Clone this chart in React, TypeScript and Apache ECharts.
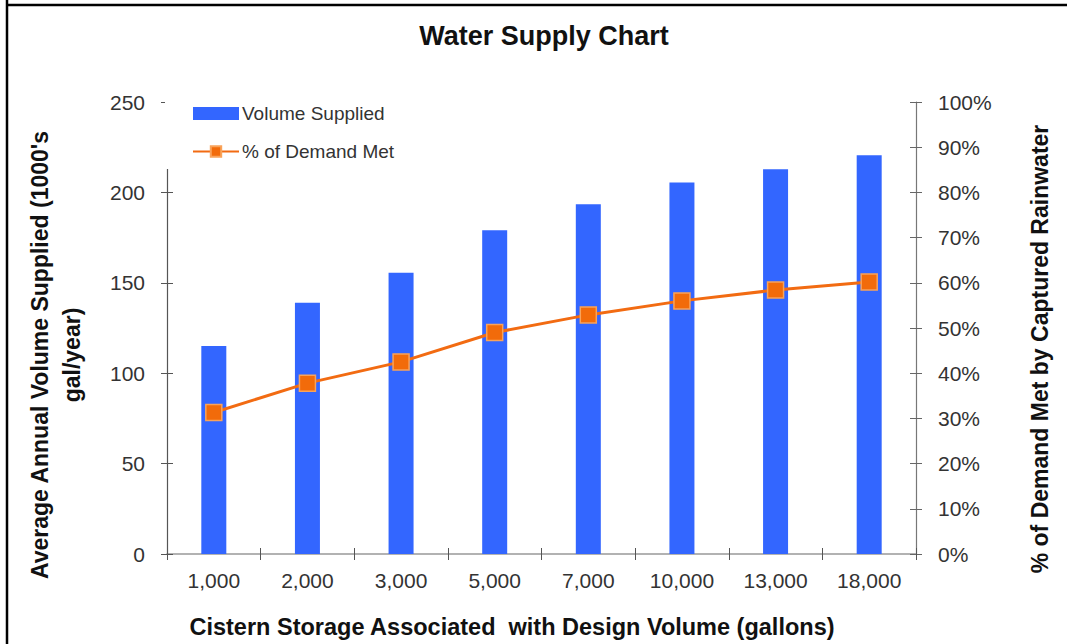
import React, { useEffect, useRef } from "react";
import * as echarts from "echarts";

const categories = ["1,000", "2,000", "3,000", "5,000", "7,000", "10,000", "13,000", "18,000"];
const volumeSupplied = [115, 139, 155.5, 179, 193.5, 205.5, 212.8, 220.5];
const demandMetPct = [31.3, 37.8, 42.5, 49.0, 52.9, 56.0, 58.4, 60.2];
const leftTicks = { min: 0, max: 250, interval: 50 };
const rightTicks = { min: 0, max: 100, interval: 10 };

const FONT = "'Liberation Sans', Arial, sans-serif";

export default function App() {
  const ref = useRef<HTMLDivElement>(null);
  useEffect(() => {
    if (!ref.current) return;
    const chart = echarts.init(ref.current, undefined, { renderer: "svg" });
    const axisLabel = { fontFamily: FONT, fontSize: 21, color: "#333" };
    const hiddenY = (pos: string, t: any, color: string) => ({
      type: "value",
      position: pos,
      min: t.min,
      max: t.max,
      interval: t.interval,
      splitLine: { show: false },
      axisLine: { show: false },
      axisLabel: { show: false },
      axisTick: { show: true, inside: true, length: 6, lineStyle: { color } },
    });
    chart.setOption({
      animation: false,
      backgroundColor: "#fff",
      textStyle: { fontFamily: FONT },
      title: {
        text: "Water Supply Chart",
        left: 539,
        textAlign: "center",
        top: 17,
        textStyle: { fontFamily: FONT, fontSize: 27, fontWeight: "bold", color: "#111" },
      },
      legend: {
        orient: "vertical",
        left: 165,
        top: 96,
        padding: [8, 16, 8, 27],
        backgroundColor: "#fff",
        itemWidth: 46,
        itemHeight: 13,
        itemGap: 19,
        textStyle: { fontFamily: FONT, fontSize: 19, color: "#333", padding: [0, 0, 0, -2] },
        data: [
          { name: "Volume Supplied", icon: "rect" },
          { name: "% of Demand Met" },
        ],
      },
      grid: { left: 167, right: 151, top: 102, bottom: 90, containLabel: false },
      xAxis: [
        {
          type: "category",
          data: categories,
          axisLine: { lineStyle: { color: "#999", width: 1.5 } },
          axisTick: { show: true, length: 6, lineStyle: { color: "#555" } },
          axisLabel: { ...axisLabel, margin: 16 },
        },
        {
          type: "category",
          position: "bottom",
          data: categories,
          axisLine: { show: false },
          axisLabel: { show: false },
          axisTick: { show: true, inside: true, length: 6, lineStyle: { color: "#555" } },
        },
      ],
      yAxis: [
        {
          type: "value",
          min: leftTicks.min,
          max: leftTicks.max,
          interval: leftTicks.interval,
          splitLine: { show: false },
          axisLine: { show: true, lineStyle: { color: "#555", width: 1.2 } },
          axisTick: { show: true, length: 6, lineStyle: { color: "#555" } },
          axisLabel: { ...axisLabel, margin: 22 },
        },
        {
          type: "value",
          position: "right",
          min: rightTicks.min,
          max: rightTicks.max,
          interval: rightTicks.interval,
          splitLine: { show: false },
          axisLine: { show: true, lineStyle: { color: "#777", width: 1.2 } },
          axisTick: { show: true, length: 6, lineStyle: { color: "#666" } },
          axisLabel: { ...axisLabel, margin: 22, formatter: "{value}%" },
        },
        hiddenY("left", leftTicks, "#555"),
        hiddenY("right", rightTicks, "#666"),
      ],
      series: [
        {
          name: "Volume Supplied",
          type: "bar",
          data: volumeSupplied,
          barWidth: 25,
          itemStyle: { color: "#3366FF" },
          yAxisIndex: 0,
          xAxisIndex: 0,
        },
        {
          name: "% of Demand Met",
          type: "line",
          yAxisIndex: 1,
          xAxisIndex: 0,
          data: demandMetPct,
          symbol: "rect",
          symbolSize: 16,
          lineStyle: { color: "#F26B12", width: 3 },
          itemStyle: { color: "#F26B0A", borderColor: "#F9A35A", borderWidth: 1.5 },
          z: 5,
        },
      ],
      graphic: [
        { type: "line", shape: { x1: 7, y1: 0, x2: 7, y2: 644 }, style: { stroke: "#000", lineWidth: 2.5 } },
        { type: "line", shape: { x1: 6, y1: 5, x2: 1067, y2: 5 }, style: { stroke: "#000", lineWidth: 2.5 } },
        {
          type: "text",
          x: 56,
          y: 355,
          rotation: Math.PI / 2,
          style: {
            text: "Average Annual Volume Supplied (1000's\ngal/year)",
            align: "center",
            verticalAlign: "middle",
            lineHeight: 32,
            font: `bold 23px ${FONT}`,
            fill: "#111",
          },
        },
        {
          type: "text",
          x: 1040,
          y: 349,
          rotation: Math.PI / 2,
          style: {
            text: "% of Demand Met by Captured Rainwater",
            align: "center",
            verticalAlign: "middle",
            font: `bold 23px ${FONT}`,
            fill: "#111",
          },
        },
        {
          type: "text",
          x: 512,
          y: 627,
          style: {
            text: "Cistern Storage Associated  with Design Volume (gallons)",
            align: "center",
            verticalAlign: "middle",
            font: `bold 23.5px ${FONT}`,
            fill: "#111",
          },
        },
      ],
    });
    return () => chart.dispose();
  }, []);
  return (
    <div
      ref={ref}
      style={{ position: "fixed", left: 0, top: 0, width: 1067, height: 644 }}
    />
  );
}
